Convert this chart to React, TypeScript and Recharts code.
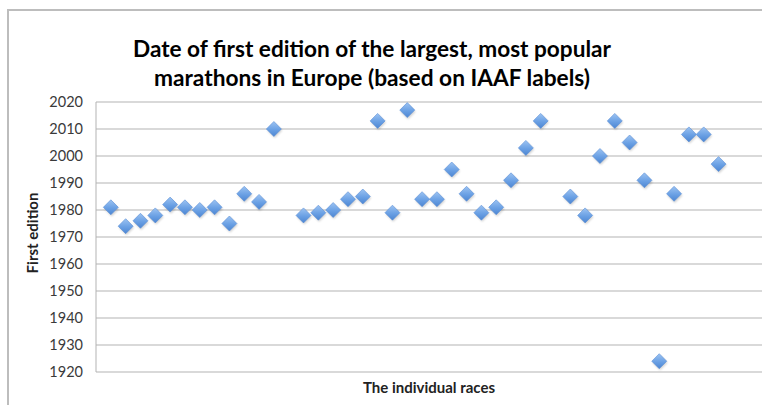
import React from 'react';
import { ScatterChart, Scatter, XAxis, YAxis, CartesianGrid } from 'recharts';

// Position of each race along the horizontal axis (slots 13 and 31 are empty)
const racePositions = [
  1, 2, 3, 4, 5, 6, 7, 8, 9, 10, 11, 12,
  14, 15, 16, 17, 18, 19, 20, 21, 22, 23, 24, 25, 26, 27, 28, 29, 30,
  32, 33, 34, 35, 36, 37, 38, 39, 40, 41, 42,
];

// Year of the first edition of each race
const firstEditions = [
  1981, 1974, 1976, 1978, 1982, 1981, 1980, 1981, 1975, 1986, 1983, 2010,
  1978, 1979, 1980, 1984, 1985, 2013, 1979, 2017, 1984, 1984, 1995, 1986, 1979, 1981, 1991, 2003, 2013,
  1985, 1978, 2000, 2013, 2005, 1991, 1924, 1986, 2008, 2008, 1997,
];

const yearTicks = [1920, 1930, 1940, 1950, 1960, 1970, 1980, 1990, 2000, 2010, 2020];

const titleLines = [
  'Date of first edition of the largest, most popular',
  'marathons in Europe (based on IAAF labels)',
];

const points = racePositions.map((x, i) => ({ x, year: firstEditions[i] }));

const FONT = 'Lato, "Open Sans", sans-serif';

const Diamond = (props: any) => {
  const { cx, cy } = props;
  if (cx == null || cy == null) return null;
  const r = 7.5;
  const d = `M${cx},${cy - r} L${cx + r},${cy} L${cx},${cy + r} L${cx - r},${cy} Z`;
  return (
    <g>
      <path d={d} fill="#000" opacity={0.18} transform="translate(0.8,1.6)" filter="url(#markerBlur)" />
      <path d={d} fill="url(#markerFill)" stroke="#5a8fd6" strokeWidth={0.6} />
    </g>
  );
};

export default function App() {
  return (
    <div style={{ position: 'absolute', left: 0, top: 0, width: 762, height: 405, overflow: 'hidden', background: '#fff' }}>
      {/* frame of the chart area */}
      <div style={{ position: 'absolute', left: 7, top: 9, width: 760, height: 400, borderTop: '2px solid #bdbdbd', borderLeft: '2px solid #bdbdbd' }} />

      <div style={{ position: 'absolute', left: 0, top: 0 }}>
        <ScatterChart width={800} height={405} margin={{ top: 102, right: 37, bottom: 33, left: 36 }}>
          <CartesianGrid horizontal vertical={false} stroke="#b3b3b3" strokeWidth={1} />
          <XAxis type="number" dataKey="x" domain={[0, 45]} hide />
          <YAxis
            type="number"
            dataKey="year"
            domain={[1920, 2020]}
            ticks={yearTicks}
            width={60}
            tickLine={false}
            axisLine={{ stroke: '#b3b3b3' }}
            tick={{ fontFamily: FONT, fontSize: 14.5, fill: '#3a3a3a' }}
            tickMargin={7}
            interval={0}
          />
          <Scatter data={points} shape={<Diamond />} isAnimationActive={false} />
        </ScatterChart>
      </div>

      {/* title and axis titles */}
      <svg width={762} height={405} style={{ position: 'absolute', left: 0, top: 0, pointerEvents: 'none' }}>
        <defs>
          <linearGradient id="markerFill" x1="0" y1="0" x2="0" y2="1">
            <stop offset="0%" stopColor="#9cc3f2" />
            <stop offset="55%" stopColor="#6aa0e4" />
            <stop offset="100%" stopColor="#4d86d2" />
          </linearGradient>
          <filter id="markerBlur" x="-50%" y="-50%" width="200%" height="200%">
            <feGaussianBlur stdDeviation="1.2" />
          </filter>
        </defs>
        <text x={372} y={57} textAnchor="middle" textLength={478} lengthAdjust="spacingAndGlyphs"
          fontFamily={FONT} fontWeight={700} fontSize={23} fill="#000">
          {titleLines[0]}
        </text>
        <text x={372} y={86} textAnchor="middle" textLength={436} lengthAdjust="spacingAndGlyphs"
          fontFamily={FONT} fontWeight={700} fontSize={23} fill="#000">
          {titleLines[1]}
        </text>
        <text x={38} y={233} transform="rotate(-90 38 233)" textAnchor="middle"
          fontFamily={FONT} fontWeight={700} fontSize={15} fill="#222">
          First edition
        </text>
        <text x={429} y={393} textAnchor="middle"
          fontFamily={FONT} fontWeight={700} fontSize={15} fill="#222">
          The individual races
        </text>
      </svg>
    </div>
  );
}
